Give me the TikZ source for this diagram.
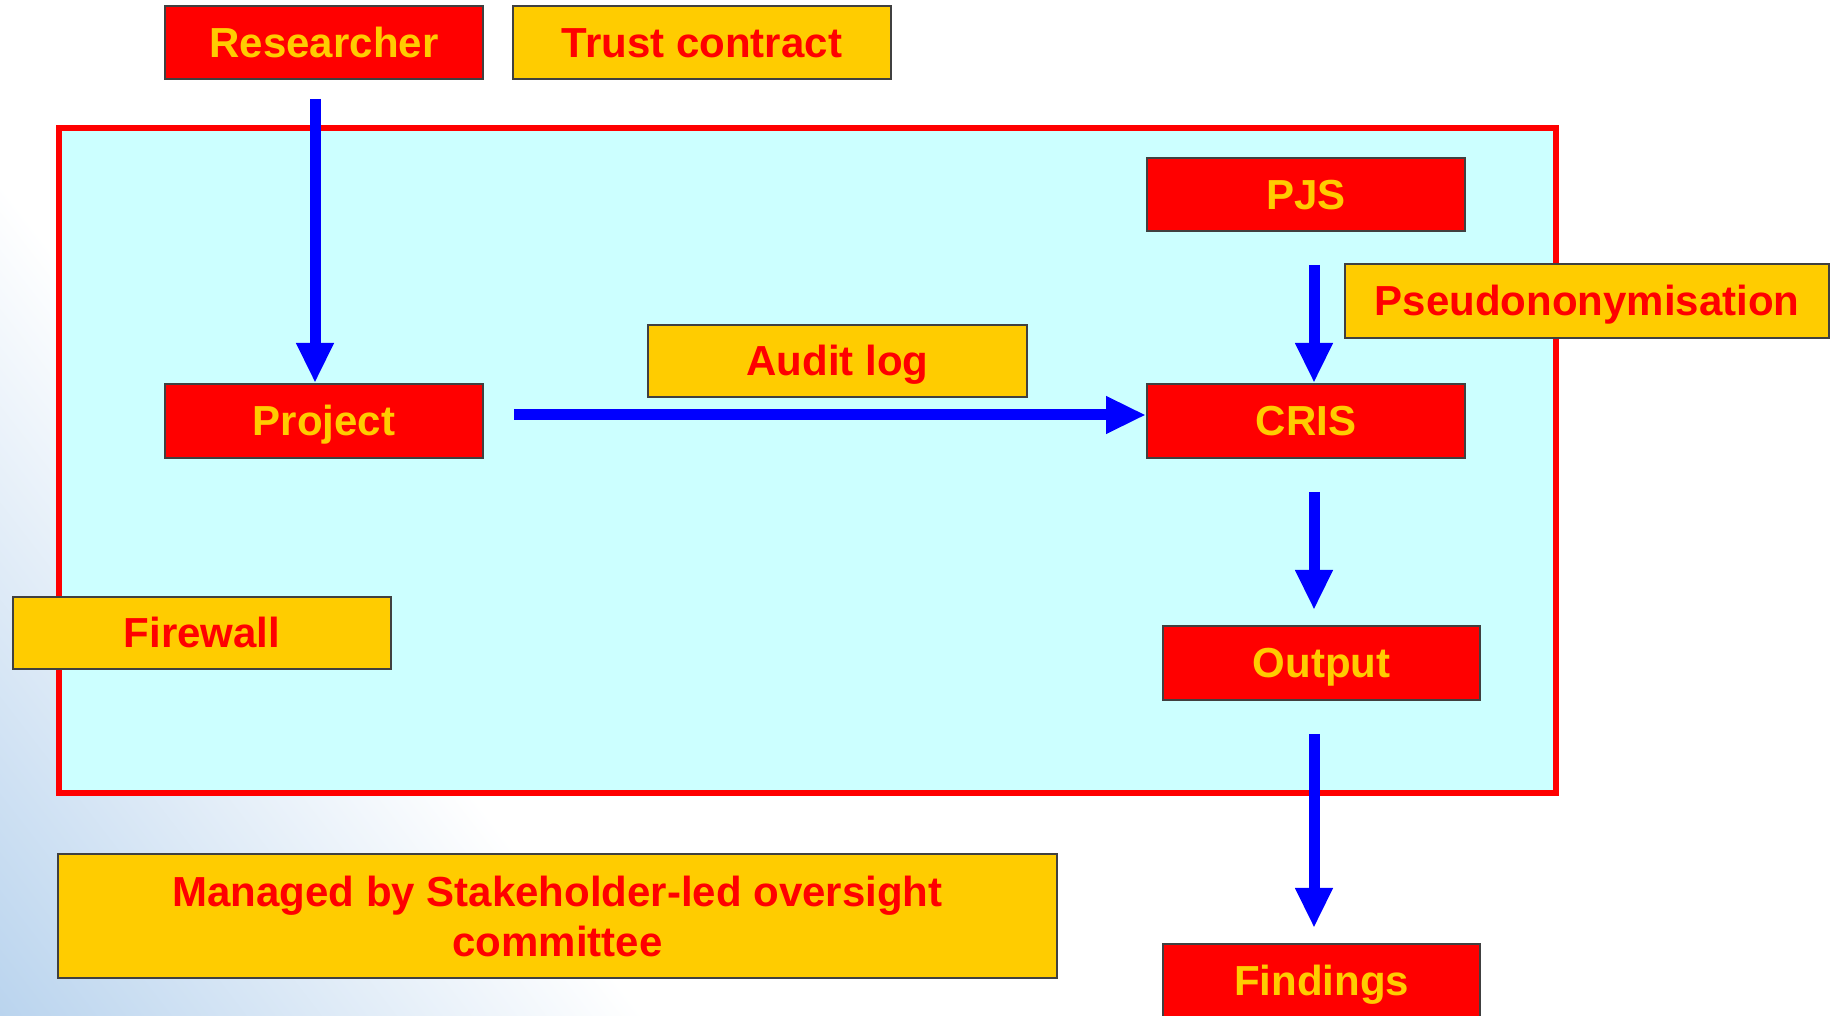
\documentclass[tikz,border=0pt]{standalone}
\usepackage{fontspec}
\setmainfont{Liberation Sans}
\usetikzlibrary{arrows.meta}
\definecolor{boxred}{HTML}{FF0000}
\definecolor{boxyel}{HTML}{FFCC00}
\definecolor{edge}{HTML}{404040}
\definecolor{cyanbg}{HTML}{CCFFFF}
\definecolor{flowblue}{HTML}{0000FF}
\definecolor{bgblue}{HTML}{BAD4EE}
\begin{document}
\begin{tikzpicture}[x=1pt,y=1pt,
  box/.style={draw=edge, line width=2pt, inner sep=0pt,
    font=\fontsize{42}{50}\selectfont\bfseries, text height=30pt, text depth=0pt},
  redbox/.style={box, fill=boxred, text=boxyel},
  yelbox/.style={box, fill=boxyel, text=boxred},
  flow/.style={draw=flowblue, line width=11pt, -{Triangle[length=40pt, width=35pt]}},
]
\useasboundingbox (0,0) rectangle (1832,1016);
\fill[white] (0,0) rectangle (1832,1016);
\begin{scope}
  \clip (0,0) rectangle (1832,1016);
  \shade[transform canvas={rotate around={37.7:(0,0)}}, left color=bgblue, middle color=bgblue!28!white, right color=white] (0,-1000) rectangle (510,1000);
\end{scope}
% secure area frame
\draw[draw=boxred, line width=6pt, fill=cyanbg] (59,223) rectangle (1556,888);
% nodes
\node[redbox, minimum width=318pt, minimum height=73pt] (researcher) at (324,973.5) {Researcher};
\node[yelbox, minimum width=378pt, minimum height=73pt] (trust) at (702,973.5) {Trust contract};
\node[redbox, minimum width=318pt, minimum height=73pt] (pjs) at (1306,821.5) {PJS};
\node[yelbox, minimum width=484pt, minimum height=74pt] (pseudo) at (1587,715) {Pseudononymisation};
\node[yelbox, minimum width=379pt, minimum height=72pt] (audit) at (837.5,655) {Audit log};
\node[redbox, minimum width=318pt, minimum height=74pt] (project) at (324,595) {Project};
\node[redbox, minimum width=318pt, minimum height=74pt] (cris) at (1306,595) {CRIS};
\node[yelbox, minimum width=378pt, minimum height=72pt] (firewall) at (202,383) {Firewall};
\node[redbox, minimum width=317pt, minimum height=74pt] (output) at (1321.5,353) {Output};
\node[yelbox, minimum width=999pt, minimum height=124pt, text height=, text depth=, align=center] (managed) at (557.5,100) {Managed by Stakeholder-led oversight\\committee};
\node[redbox, minimum width=317pt, minimum height=74pt] (findings) at (1321.5,35) {Findings};
% connectors
\draw[flow, shorten <=19pt] ([xshift=-9pt]researcher.south) -- ([xshift=-9pt]project.north);
\draw[flow, shorten <=30pt] ([yshift=6pt]project.east) -- ([yshift=6pt]project.east -| cris.west);
\draw[flow, shorten <=33pt] ([xshift=8pt]pjs.south) -- ([xshift=8pt]cris.north);
\draw[flow, shorten <=33pt, shorten >=15pt] ([xshift=8pt]cris.south) -- ([xshift=8pt]cris.south |- output.north);
\draw[flow, shorten <=33pt, shorten >=15pt] ([xshift=-7.5pt]output.south) -- ([xshift=-7.5pt]findings.north);
\end{tikzpicture}
\end{document}
